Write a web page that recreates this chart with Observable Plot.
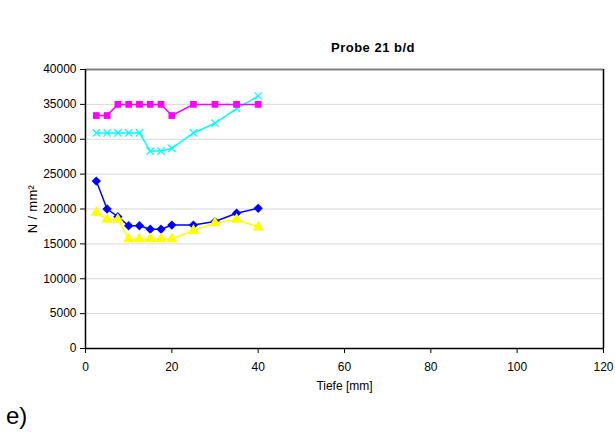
<!DOCTYPE html>
<html>
<head>
<meta charset="utf-8">
<script src="https://cdn.jsdelivr.net/npm/d3@7"></script>
<script src="https://cdn.jsdelivr.net/npm/@observablehq/plot@0.6"></script>
<style>
  body { margin: 0; background: #fff; width: 615px; height: 435px; position: relative; overflow: hidden; font-family: "Liberation Sans", Arial, sans-serif; }
  #title { position: absolute; top: 40px; left: 373px; transform: translateX(-50%); font-size: 13px; font-weight: bold; letter-spacing: 0.5px; white-space: nowrap; }
  #chart { position: absolute; top: 58px; left: 0; }
  #tag { position: absolute; top: 404px; left: 6px; font-size: 24px; line-height: 24px; }
</style>
</head>
<body>
<div id="title">Probe 21 b/d</div>
<div id="chart"></div>
<div id="tag">e)</div>
<script>
// Depth positions [mm]
const tiefe = [2.5, 5, 7.5, 10, 12.5, 15, 17.5, 20, 25, 30, 35, 40];

// Four measurement series [N/mm²]
const seriesMagenta = [33400, 33400, 35000, 35000, 35000, 35000, 35000, 33400, 35000, 35000, 35000, 35000];
const seriesCyan    = [30900, 30900, 30900, 30900, 30900, 28300, 28300, 28700, 30900, 32300, 34400, 36200];
const seriesBlue    = [24000, 20000, 18900, 17600, 17600, 17100, 17100, 17700, 17700, 18200, 19400, 20100];
const seriesYellow  = [19500, 18500, 18500, 15700, 15700, 15700, 15700, 15700, 16900, 18000, 18500, 17400];

const yTicks = [0, 5000, 10000, 15000, 20000, 25000, 30000, 35000, 40000];
const xTicks = [0, 20, 40, 60, 80, 100, 120];

const toRows = vals => tiefe.map((x, i) => ({x, y: vals[i]}));

const styles = [
  {vals: seriesBlue,    color: "#0000ff", symbol: "diamond2", r: 4.2, fill: true},
  {vals: seriesYellow,  color: "#ffff00", symbol: "triangle", r: 4.2, fill: true},
  {vals: seriesCyan,    color: "#00ffff", symbol: "times",    r: 3.4, fill: false},
  {vals: seriesMagenta, color: "#ff00ff", symbol: "square",   r: 3.8, fill: true}
];

const marks = [
  Plot.gridY(yTicks.filter(v => v > 0 && v < 40000), {stroke: "#d9d9d9", strokeOpacity: 1, strokeWidth: 1}),
  Plot.ruleY([40000], {stroke: "#808080", strokeWidth: 2}),
  Plot.ruleX([120], {stroke: "#000", strokeWidth: 1.5}),
  Plot.axisX({ticks: xTicks, tickSize: 5, tickPadding: 9, fontSize: 12, tickFormat: d => String(d), label: "Tiefe [mm]", labelAnchor: "center", labelArrow: "none", labelOffset: 41}),
  Plot.axisY({ticks: yTicks, tickSize: 5, tickPadding: 4, fontSize: 12, tickFormat: d => String(d), label: "N / mm²", labelAnchor: "center", labelArrow: "none", labelOffset: 58}),
  Plot.ruleY([0], {stroke: "#000", strokeWidth: 1.5}),
  Plot.ruleX([0], {stroke: "#000", strokeWidth: 1.5})
];

for (const s of styles) {
  const rows = toRows(s.vals);
  marks.push(Plot.line(rows, {x: "x", y: "y", stroke: s.color, strokeWidth: 1.5}));
  marks.push(Plot.dot(rows, s.fill
    ? {x: "x", y: "y", symbol: () => s.symbol, r: s.r, fill: s.color, stroke: "none"}
    : {x: "x", y: "y", symbol: () => s.symbol, r: s.r, fill: "none", stroke: s.color, strokeWidth: 1.3}));
}

const chart = Plot.plot({
  width: 615,
  height: 342,
  marginLeft: 85,
  marginRight: 12,
  marginTop: 11,
  marginBottom: 52,
  style: {fontFamily: "'Liberation Sans', Arial, sans-serif", fontSize: "12px", color: "#000", background: "#fff"},
  x: {domain: [0, 120]},
  y: {domain: [0, 40000]},
  symbol: {type: "identity"},
  marks
});

// Axis titles: narrow face for the depth title, slightly larger stress title
chart.querySelectorAll("[aria-label='x-axis label'] text").forEach(t => {
  t.style.fontFamily = "'Liberation Sans Narrow', 'Liberation Sans', Arial, sans-serif";
  t.style.fontSize = "12px";
});
chart.querySelectorAll("[aria-label='y-axis label'] text").forEach(t => {
  t.style.fontSize = "13px";
  t.style.letterSpacing = "0.3px";
});

document.getElementById("chart").appendChild(chart);
</script>
</body>
</html>
